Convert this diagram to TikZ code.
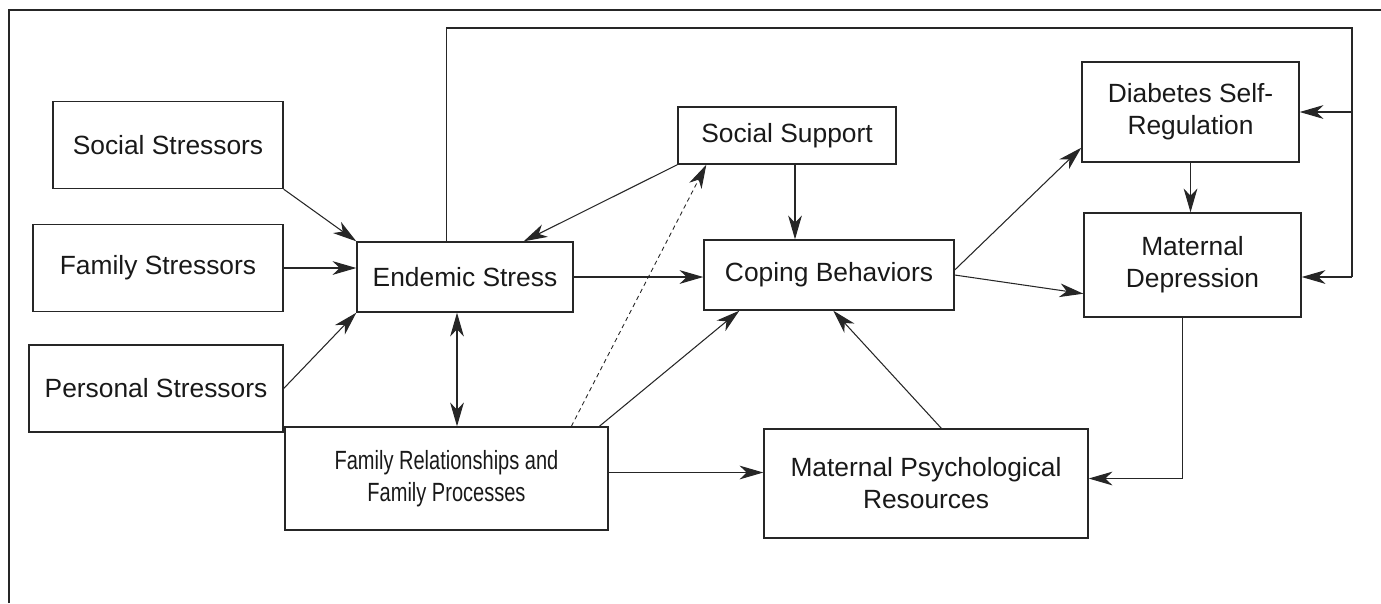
\documentclass[tikz,border=0pt]{standalone}
\usepackage{fontspec}
\setmainfont{Liberation Sans}
\usepackage{graphicx}
\newcommand\narrowtext[1]{\scalebox{0.76}[1]{#1}}
\usepackage{tikz}
\usetikzlibrary{calc,positioning,arrows.meta}
\tikzset{>={Stealth[length=13.5pt,width=7.8pt,inset=4pt]}}
\tikzset{
  block/.style={draw=black!85, line width=0.8pt, align=center, inner sep=2pt,
    font=\fontsize{15}{18.2}\selectfont, text=black!90},
  conn/.style={->, draw=black!85, line width=0.6pt},
  wire/.style={draw=black!85, line width=0.6pt},
}

\begin{document}
\begin{tikzpicture}[x=0.02cm, y=-0.02cm]
            \useasboundingbox (0,0) rectangle (1381,603);
            \draw[black!85, line width=1.2pt] (9,603) -- (9,10) -- (1381,10);

            \node[block, minimum width=4.6cm, minimum height=1.74cm] (social) at (168,145) {Social Stressors};
            \node[block, minimum width=5cm, minimum height=1.74cm] (family) at (158,268) {Family Stressors};
            \node[block, minimum width=5.08cm, minimum height=1.74cm] (personal) at (156,388.5) {Personal Stressors};
            \node[block, minimum width=4.32cm, minimum height=1.4cm] (endemic) at (465,277) {Endemic Stress};
            \node[block, minimum width=4.36cm, minimum height=1.14cm] (support) at (787,135.5) {Social Support};
            \node[block, minimum width=5cm, minimum height=1.4cm] (coping) at (829,275) {Coping Behaviors};
            \node[block, minimum width=6.46cm, minimum height=2.06cm] (relations) at (446.5,478.5) {\narrowtext{Family Relationships and}\\\narrowtext{Family Processes}};
            \node[block, minimum width=6.48cm, minimum height=2.18cm] (resources) at (926,483.5) {Maternal Psychological\\Resources};
            \node[block, minimum width=4.34cm, minimum height=2cm] (selfreg) at (1190.5,112) {Diabetes Self-\\Regulation};
            \node[block, minimum width=4.34cm, minimum height=2.08cm] (depression) at (1192.5,265) {Maternal\\Depression};

            \coordinate (esb) at ($(endemic.south)+(-8,0)$);
            \coordinate (esa) at ($(endemic.north west)+(90,0)$);
            \coordinate (ssb) at ($(support.south)+(8,0)$);
            \coordinate (mdb) at ($(depression.south)+(-10,0)$);
            \coordinate (frb) at ($(relations.east)+(0,-6)$);
            \coordinate (fbtop) at (1352,28);
            \coordinate (fbend) at (1352,277);

            \draw[conn] (social.south east) -- (endemic.north west);
            \draw[conn] (family.east) -- (family.east -| endemic.west);
            \draw[conn] (personal.east) -- (endemic.south west);
            \draw[conn] (support.south west) -- ($(endemic.north west)!0.77!(endemic.north east)$);
            \draw[conn, <->] (esb) -- (esb |- relations.north);
            \draw[conn] (endemic.east) -- (endemic.east -| coping.west);
            \draw[conn] (ssb) -- (ssb |- coping.north);
            \draw[conn, line width=0.5pt, dash pattern=on 2.5pt off 2pt] ($(relations.north west)+(287,0)$) -- ($(support.south west)+(29,0)$);
            \draw[conn] ($(relations.north west)+(315,0)$) -- ($(coping.south west)+(36,0)$);
            \draw[conn] (frb) -- (frb -| resources.west);
            \draw[conn] ($(resources.north west)+(178,0)$) -- ($(coping.south west)+(130,0)$);
            \draw[conn] ($(coping.east)+(0,-5)$) -- ($(selfreg.south west)+(0,-15)$);
            \draw[conn] (coping.east) -- ($(depression.south west)+(0,-24)$);
            \draw[conn] (selfreg.south) -- (selfreg.south |- depression.north);
            \draw[conn] (mdb) |- ($(resources.east)+(0,-5)$);

            \draw[wire] (esa) |- (fbtop) -- (fbend);
            \draw[conn] (fbend) -- (fbend -| depression.east);
            \draw[conn] (fbtop |- selfreg.east) -- (selfreg.east);
        \end{tikzpicture}
\end{document}
